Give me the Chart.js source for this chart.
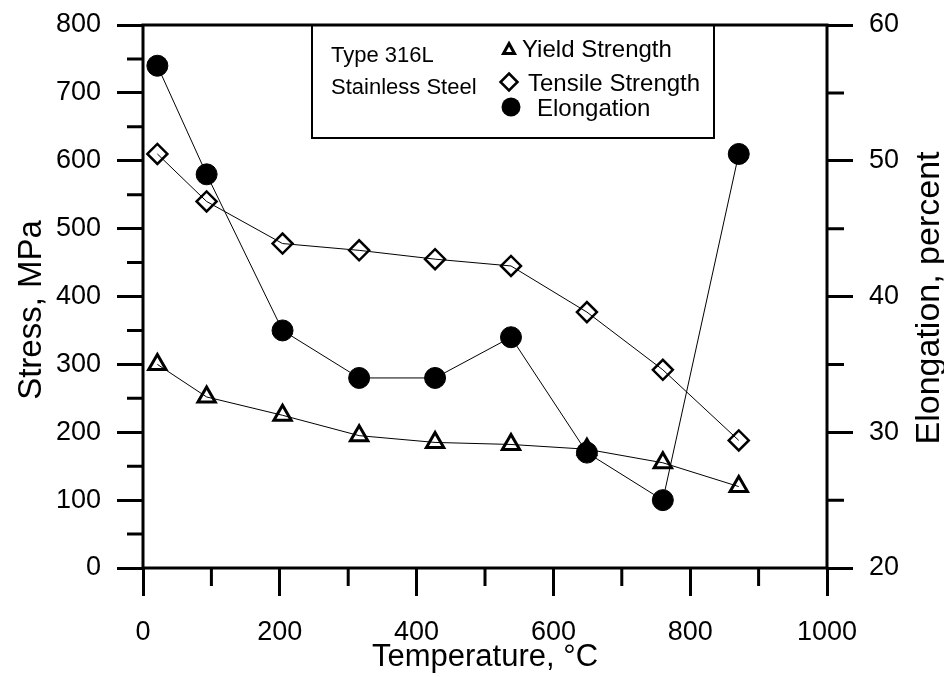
<!DOCTYPE html>
<html>
<head>
<meta charset="utf-8">
<script src="https://cdn.jsdelivr.net/npm/chart.js@4"></script>
<style>
  body { margin: 0; background: #fff; }
  canvas { display: block; }
</style>
</head>
<body>
<canvas id="grafico" width="944" height="677"></canvas>
<script>
// dados (temperatura em oC)
const temperaturas = [21, 93, 204, 316, 427, 538, 649, 760, 871];
const escoamento = [300, 252, 225, 195, 185, 182, 175, 155, 120];
const resistencia = [610, 540, 478, 468, 455, 445, 377, 292, 188];
const alongamento = [57, 49, 37.5, 34, 34, 37, 28.5, 25, 50.5];

const menoresX = [100, 300, 500, 700, 900];
const menoresY = [50, 150, 250, 350, 450, 550, 650, 750];
const menoresY2 = [25, 35, 45, 55];

const FONTE = '"Liberation Sans", Arial, sans-serif';

function pontos(valores) {
  return temperaturas.map((t, i) => ({ x: t, y: valores[i] }));
}

// sem espaco extra acima/abaixo por causa dos rotulos
function semPadding(scale) {
  scale.paddingTop = 0;
  scale.paddingBottom = 0;
  scale.paddingLeft = 0;
  scale.paddingRight = 0;
}

// texto girado, lido de baixo para cima
function textoVertical(ctx, texto, x, y, tamanho) {
  ctx.save();
  ctx.font = tamanho + 'px ' + FONTE;
  ctx.textAlign = 'center';
  ctx.textBaseline = 'alphabetic';
  ctx.translate(x, y);
  ctx.rotate(-Math.PI / 2);
  ctx.fillText(texto, 0, 0);
  ctx.restore();
}

const moldura = {
  id: 'moldura',
  afterDraw(chart) {
    const ctx = chart.ctx;
    const a = chart.chartArea;
    const sx = chart.scales.x, sy = chart.scales.y, sy2 = chart.scales.y2;
    ctx.save();
    ctx.strokeStyle = '#000';
    ctx.fillStyle = '#000';
    ctx.lineWidth = 3;

    // marcas menores
    ctx.beginPath();
    menoresX.forEach(v => {
      const p = sx.getPixelForValue(v);
      ctx.moveTo(p, a.bottom); ctx.lineTo(p, a.bottom + 18);
    });
    menoresY.forEach(v => {
      const p = sy.getPixelForValue(v);
      ctx.moveTo(a.left, p); ctx.lineTo(a.left - 16, p);
    });
    menoresY2.forEach(v => {
      const p = sy2.getPixelForValue(v);
      ctx.moveTo(a.right, p); ctx.lineTo(a.right + 17, p);
    });
    ctx.stroke();

    // moldura
    ctx.strokeRect(a.left, a.top, a.right - a.left, a.bottom - a.top);

    // titulos dos eixos verticais
    textoVertical(ctx, 'Stress, MPa', 41, 310, 33);
    textoVertical(ctx, 'Elongation, percent', 939, 298, 34);

    // legenda
    ctx.lineWidth = 2;
    ctx.strokeRect(312, a.top, 402, 113);
    ctx.font = '22px ' + FONTE;
    ctx.textAlign = 'left';
    ctx.textBaseline = 'alphabetic';
    ctx.fillText('Type 316L', 331, 62);
    ctx.fillText('Stainless Steel', 331, 94);

    ctx.font = '24px ' + FONTE;
    ctx.lineWidth = 3;
    ctx.lineJoin = 'miter';
    ctx.beginPath();
    ctx.moveTo(509, 43.5); ctx.lineTo(514.5, 53.5); ctx.lineTo(503.5, 53.5); ctx.closePath();
    ctx.stroke();
    ctx.fillText('Yield Strength', 522, 57);

    ctx.lineWidth = 2.5;
    ctx.beginPath();
    ctx.moveTo(509, 73.5); ctx.lineTo(517.5, 82); ctx.lineTo(509, 90.5); ctx.lineTo(500.5, 82); ctx.closePath();
    ctx.stroke();
    ctx.fillText('Tensile Strength', 528, 91);

    ctx.beginPath();
    ctx.arc(511, 107, 9.5, 0, Math.PI * 2);
    ctx.fill();
    ctx.fillText('Elongation', 537, 116);
    ctx.restore();
  }
};

window.onload = function () {
  new Chart(document.getElementById('grafico'), {
    type: 'line',
    data: {
      datasets: [{
        label: 'Yield Strength',
        data: pontos(escoamento),
        yAxisID: 'y',
        borderColor: '#000',
        borderWidth: 1,
        pointStyle: 'triangle',
        pointRadius: 10,
        pointBorderWidth: 3,
        pointBackgroundColor: 'rgba(0,0,0,0)',
        pointBorderColor: '#000'
      }, {
        label: 'Tensile Strength',
        data: pontos(resistencia),
        yAxisID: 'y',
        borderColor: '#000',
        borderWidth: 1,
        pointStyle: 'rectRot',
        pointRadius: 10,
        pointBorderWidth: 2.5,
        pointBackgroundColor: 'rgba(0,0,0,0)',
        pointBorderColor: '#000'
      }, {
        label: 'Elongation',
        data: pontos(alongamento),
        yAxisID: 'y2',
        borderColor: '#000',
        borderWidth: 1,
        pointStyle: 'circle',
        pointRadius: 10.5,
        pointBorderWidth: 1,
        pointBackgroundColor: '#000',
        pointBorderColor: '#000'
      }]
    },
    options: {
      responsive: false,
      animation: false,
      layout: { padding: { top: 25, left: 0, right: 0, bottom: 0 } },
      plugins: {
        legend: { display: false },
        tooltip: { enabled: false }
      },
      scales: {
        x: {
          type: 'linear',
          min: 0, max: 1000,
          ticks: {
            stepSize: 200, color: '#000', padding: 20,
            font: { family: FONTE, size: 27 },
            callback: v => String(v)
          },
          grid: { drawOnChartArea: false, tickLength: 28, tickWidth: 3, tickColor: '#000' },
          border: { display: false },
          title: { display: true, text: 'Temperature, °C', color: '#000', font: { family: FONTE, size: 31 }, padding: { top: 0, bottom: 1 } },
          afterFit(scale) { scale.height = 109; semPadding(scale); }
        },
        y: {
          position: 'left',
          min: 0, max: 800,
          ticks: { stepSize: 100, color: '#000', padding: 16, font: { family: FONTE, size: 27 } },
          grid: { drawOnChartArea: false, tickLength: 26, tickWidth: 3, tickColor: '#000' },
          border: { display: false },
          afterFit(scale) { scale.width = 143; semPadding(scale); }
        },
        y2: {
          position: 'right',
          min: 20, max: 60,
          ticks: { stepSize: 10, color: '#000', padding: 16, font: { family: FONTE, size: 27 } },
          grid: { drawOnChartArea: false, tickLength: 26, tickWidth: 3, tickColor: '#000' },
          border: { display: false },
          afterFit(scale) { scale.width = 117; semPadding(scale); }
        }
      }
    },
    plugins: [moldura]
  });
};
</script>
</body>
</html>
